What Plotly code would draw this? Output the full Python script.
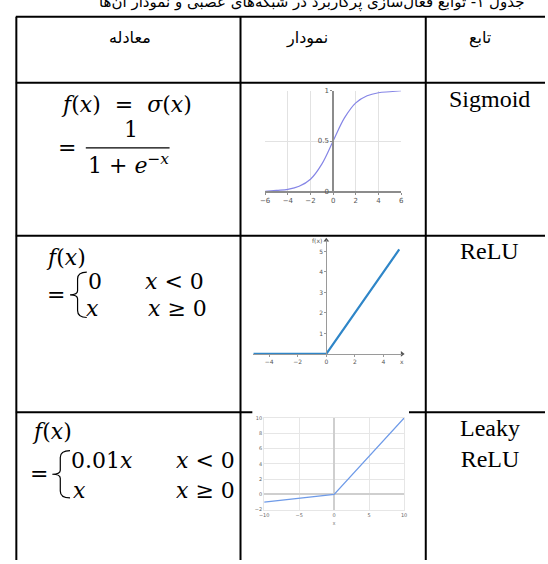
import plotly.graph_objects as go

# table text
title = "جدول ۱- توابع فعال‌سازی پرکاربرد در شبکه‌های عصبی و نمودار آن‌ها"
headers = ["معادله", "نمودار", "تابع"]
names = ["Sigmoid", "ReLU", "Leaky<br>ReLU"]

# sigmoid curve
sig_x = [-6, -5, -4, -3, -2, -1, 0, 1, 2, 3, 4, 5, 6]
sig_y = [0.00, 0.01, 0.02, 0.05, 0.12, 0.27, 0.50, 0.73, 0.88, 0.95, 0.98, 0.99, 1.00]
sig_xticks = [-6, -4, -2, 0, 2, 4, 6]
sig_yticks = [0, 0.5, 1]

# relu
relu_x = [-5.1, 0, 5.1]
relu_y = [0, 0, 5.1]
relu_xticks = [-4, -2, 0, 2, 4]
relu_yticks = [1, 2, 3, 4, 5]

# leaky relu
leaky_x = [-10, 0, 10]
leaky_y = [-1, 0, 10]

W, H = 548, 564


def px(x):
    return x / W


def py(y):
    return 1 - y / H


def label(text, x, y, size, family="DejaVu Serif", xanchor="center"):
    return dict(text=text, x=px(x), y=py(y), xref="paper", yref="paper",
                showarrow=False, xanchor=xanchor, yanchor="middle",
                font=dict(size=size, family=family, color="black"))


def hline(x0, x1, y, w=2):
    return dict(type="line", xref="paper", yref="paper", x0=px(x0), x1=px(x1),
                y0=py(y), y1=py(y), line=dict(color="black", width=w))


def vline(x, y0, y1, w=2):
    return dict(type="line", xref="paper", yref="paper", x0=px(x), x1=px(x),
                y0=py(y0), y1=py(y1), line=dict(color="black", width=w))


def brace(x0, x1, y0, y1):
    ym = (y0 + y1) / 2
    xs = x0 + (x1 - x0) * 0.45
    p = lambda a, b: f"{px(a)},{py(b)}"
    path = (f"M {p(x1, y0)} Q {p(xs, y0)} {p(xs, y0 + 7)} L {p(xs, ym - 4)} "
            f"Q {p(xs, ym)} {p(x0, ym)} Q {p(xs, ym)} {p(xs, ym + 4)} "
            f"L {p(xs, y1 - 7)} Q {p(xs, y1)} {p(x1, y1)}")
    return dict(type="path", xref="paper", yref="paper", path=path,
                line=dict(color="black", width=1.2))


fig = go.Figure()

fig.add_trace(go.Scatter(x=sig_x, y=sig_y, mode="lines", xaxis="x", yaxis="y",
                         line=dict(color="#8585e6", width=1.2, shape="spline"),
                         hoverinfo="skip"))
fig.add_trace(go.Scatter(x=relu_x, y=relu_y, mode="lines", xaxis="x2", yaxis="y2",
                         line=dict(color="#2f86c8", width=2.2), hoverinfo="skip"))
fig.add_trace(go.Scatter(x=leaky_x, y=leaky_y, mode="lines", xaxis="x3", yaxis="y3",
                         line=dict(color="#6f9be8", width=1.3), hoverinfo="skip"))

# relu axis ranges, the axes cross at the origin
rx = [-5.1, 5.3]
ry = [-0.12, 5.55]
fig.add_trace(go.Scatter(x=[rx[1], 0], y=[0, ry[1]], mode="markers", xaxis="x2", yaxis="y2",
                         marker=dict(symbol=["triangle-right", "triangle-up"], size=5,
                                     color="#555555"),
                         cliponaxis=False, hoverinfo="skip"))

sig_dom_x = [px(264), px(402)]
relu_dom_x = [px(252), px(403)]
relu_dom_y = [py(357.5), py(239.6)]

tick_small = dict(size=6, color="#555555", family="DejaVu Sans")

fig.update_layout(
    width=W, height=H, margin=dict(l=0, r=0, t=0, b=0),
    paper_bgcolor="white", plot_bgcolor="white", showlegend=False,
    xaxis=dict(domain=sig_dom_x, range=[-6, 6], tickvals=sig_xticks, anchor="y",
               showgrid=True, gridcolor="#e2e2e2", zeroline=False,
               showline=True, linecolor="#8c8c8c", linewidth=1.5,
               ticks="outside", ticklen=2, tickcolor="#8c8c8c",
               tickfont=dict(size=7, color="#555555", family="DejaVu Sans")),
    yaxis=dict(domain=[py(190), py(88)], range=[0, 1], tickvals=sig_yticks,
               anchor="free", position=(sig_dom_x[0] + sig_dom_x[1]) / 2,
               showgrid=True, gridcolor="#e2e2e2", zeroline=False,
               showline=True, linecolor="#8c8c8c", linewidth=1.5,
               ticks="outside", ticklen=2, tickcolor="#8c8c8c",
               tickfont=dict(size=7, color="#555555", family="DejaVu Sans")),
    xaxis2=dict(domain=relu_dom_x, range=rx, tickvals=relu_xticks,
                anchor="free",
                position=relu_dom_y[0] + (0 - ry[0]) / (ry[1] - ry[0]) * (relu_dom_y[1] - relu_dom_y[0]),
                showgrid=False, zeroline=False, showline=True, linecolor="#9a9a9a",
                ticks="outside", ticklen=2, tickcolor="#9a9a9a", tickfont=tick_small),
    yaxis2=dict(domain=relu_dom_y, range=ry, tickvals=relu_yticks,
                anchor="free",
                position=relu_dom_x[0] + (0 - rx[0]) / (rx[1] - rx[0]) * (relu_dom_x[1] - relu_dom_x[0]),
                showgrid=False, zeroline=False, showline=True, linecolor="#9a9a9a",
                ticks="outside", ticklen=2, tickcolor="#9a9a9a", tickfont=tick_small),
    xaxis3=dict(domain=[px(263), px(405)], range=[-10, 10], dtick=5, anchor="y3",
                showgrid=True, gridcolor="#e6e6e6", zeroline=True, zerolinecolor="#cfcfcf",
                zerolinewidth=1.5, showline=True, linecolor="#e6e6e6", mirror=True,
                tickfont=dict(size=5, color="#666666", family="DejaVu Sans"),
                title=dict(text="x", font=dict(size=5, color="#666666"), standoff=4)),
    yaxis3=dict(domain=[py(513), py(420)], range=[-2, 10], dtick=2, anchor="x3",
                showgrid=True, gridcolor="#e6e6e6", zeroline=True, zerolinecolor="#cfcfcf",
                zerolinewidth=1.5, showline=True, linecolor="#e6e6e6", mirror=True,
                tickfont=dict(size=5, color="#666666", family="DejaVu Sans")),
)

# table grid
shapes = [
    hline(11, W, 13), hline(11, W, 80), hline(11, W, 235),
    hline(11, 251, 414), hline(410, W, 414),
    vline(11.5, 13, H), vline(239, 13, H), vline(427, 13, H),
    # fraction bar of the sigmoid
    hline(82, 167, 146, 1.3),
    brace(66, 83, 272, 318),
    brace(48, 66, 453, 501),
]

ann = [label(title, 311, -2, 15, "DejaVu Sans"),
       label(headers[0], 127, 34, 16, "DejaVu Sans"),
       label(headers[1], 306, 34, 16, "DejaVu Sans"),
       label(headers[2], 482, 34, 16, "DejaVu Sans"),
       label(names[0], 492, 96, 24, "Liberation Serif"),
       label(names[1], 492, 251, 24, "Liberation Serif"),
       label(names[2], 492, 446, 24, "Liberation Serif")]

# sigmoid equation
ann += [label("<i>f</i>(<i>x</i>)  =  <i>σ</i>(<i>x</i>)", 123, 102, 22),
        label("1", 128, 127, 22),
        label("=", 63, 146, 22),
        label("1 + <i>e</i><sup>−<i>x</i></sup>", 125, 162, 22)]

# relu equation
ann += [label("<i>f</i>(<i>x</i>)", 40, 257, 22, xanchor="left"),
        label("=", 52, 295, 22),
        label("0", 91, 281, 22),
        label("<i>x</i> &lt; 0", 140, 281, 22, xanchor="left"),
        label("<i>x</i>", 89, 309, 22),
        label("<i>x</i> ≥ 0", 143, 309, 22, xanchor="left")]

# leaky relu equation
ann += [label("<i>f</i>(<i>x</i>)", 25, 434, 22, xanchor="left"),
        label("=", 34, 476, 22),
        label("0.01<i>x</i>", 65, 463, 22, xanchor="left"),
        label("<i>x</i> &lt; 0", 172, 463, 22, xanchor="left"),
        label("<i>x</i>", 67, 494, 22, xanchor="left"),
        label("<i>x</i> ≥ 0", 172, 494, 22, xanchor="left")]

# relu axis names
ann += [dict(text="f(x)", x=0, y=ry[1], xref="x2", yref="y2", showarrow=False,
             xanchor="right", yanchor="middle", xshift=-2, font=tick_small),
        dict(text="x", x=rx[1], y=0, xref="x2", yref="y2", showarrow=False,
             xanchor="center", yanchor="top", yshift=-2, font=tick_small)]

fig.update_layout(shapes=shapes, annotations=ann)

fig.write_html("out.html", config={"displayModeBar": False},
               post_script="document.body.style.margin='0';document.body.style.overflow='hidden';")
